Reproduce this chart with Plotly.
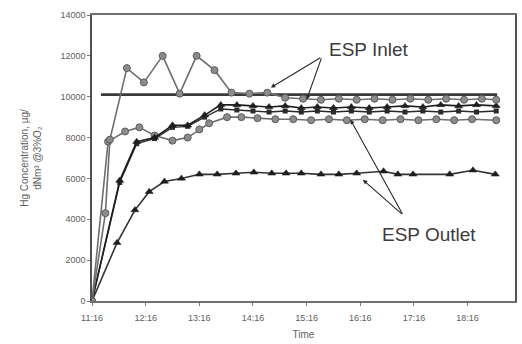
import pandas as pd
import plotly.graph_objects as go

DAY = "2000-01-01 "

# ESP inlet, run 1 (grey circles)
inlet1_time = ["11:16", "11:31", "11:36", "11:55", "12:14", "12:35", "12:54", "13:13", "13:33",
               "13:52", "14:12", "14:32", "14:52", "15:12", "15:32", "15:52", "16:12", "16:32",
               "16:52", "17:12", "17:32", "17:52", "18:12", "18:32", "18:48"]
inlet1_hg = [0, 4300, 7900, 11400, 10700, 12000, 10150, 12000, 11300,
             10200, 10150, 10200, 9950, 9900, 9850, 9900, 9850, 9900,
             9850, 9900, 9850, 9900, 9850, 9900, 9850]

# Second grey-circle series
circ2_time = ["11:16", "11:34", "11:53", "12:09", "12:26", "12:46", "13:03", "13:16", "13:27",
              "13:47", "14:03", "14:21", "14:41", "15:01", "15:21", "15:41", "16:01", "16:21",
              "16:41", "17:01", "17:21", "17:41", "18:01", "18:21", "18:48"]
circ2_hg = [0, 7800, 8300, 8500, 8100, 7850, 8000, 8400, 8700,
            9000, 9000, 8950, 8900, 8900, 8850, 8900, 8850, 8900,
            8850, 8900, 8850, 8900, 8850, 8900, 8850]

# Upper black-triangle series
tri1_time = ["11:16", "11:47", "12:06", "12:26", "12:46", "13:03", "13:22", "13:40", "13:58",
             "14:16", "14:34", "14:52", "15:10", "15:28", "15:46", "16:06", "16:26", "16:46",
             "17:06", "17:26", "17:46", "18:06", "18:26", "18:48"]
tri1_hg = [0, 5900, 7800, 8000, 8600, 8600, 9100, 9600, 9600,
           9550, 9500, 9550, 9450, 9500, 9450, 9500, 9450, 9500,
           9550, 9500, 9600, 9550, 9600, 9550]

# Black-square series
sq_time = ["11:16", "11:47", "12:06", "12:26", "12:46", "13:03", "13:22", "13:40", "13:58",
           "14:16", "14:34", "14:52", "15:10", "15:28", "15:46", "16:06", "16:26", "16:46",
           "17:06", "17:26", "17:46", "18:06", "18:26", "18:48"]
sq_hg = [0, 5800, 7700, 7950, 8500, 8550, 9000, 9400, 9350,
         9300, 9250, 9300, 9250, 9300, 9250, 9300, 9250, 9300,
         9250, 9300, 9250, 9300, 9250, 9300]

# ESP outlet (lower black triangles)
outlet_time = ["11:16", "11:44", "12:04", "12:20", "12:37", "12:56", "13:16", "13:36", "13:57",
               "14:17", "14:37", "14:53", "15:10", "15:32", "15:52", "16:12", "16:42", "16:58",
               "17:15", "17:56", "18:22", "18:47"]
outlet_hg = [0, 2850, 4450, 5350, 5850, 6000, 6200, 6200, 6250,
             6300, 6250, 6250, 6250, 6200, 6200, 6250, 6350, 6200,
             6200, 6200, 6400, 6200]

# Reference level
ref_time = ["11:26", "18:49"]
ref_hg = [10100, 10100]

tick_times = ["11:16", "12:16", "13:16", "14:16", "15:16", "16:16", "17:16", "18:16"]
y_ticks = [0, 2000, 4000, 6000, 8000, 10000, 12000, 14000]


def ts(times):
    return pd.to_datetime([DAY + t for t in times])


fig = go.Figure()

fig.add_trace(go.Scatter(x=ts(ref_time), y=ref_hg, mode="lines",
                         line=dict(color="#3a3a3a", width=2.6)))

circle_style = dict(symbol="circle", size=7, color="#8c8c8c", line=dict(color="#5a5a5a", width=1))
tri_style = dict(symbol="triangle-up", size=7, color="#1e1e1e", line=dict(color="#1e1e1e", width=0.5))

fig.add_trace(go.Scatter(x=ts(circ2_time), y=circ2_hg, mode="lines+markers",
                         line=dict(color="#6e6e6e", width=1.6), marker=circle_style))
fig.add_trace(go.Scatter(x=ts(sq_time), y=sq_hg, mode="lines+markers",
                         line=dict(color="#2a2a2a", width=1.4),
                         marker=dict(symbol="square", size=5, color="#2a2a2a")))
fig.add_trace(go.Scatter(x=ts(tri1_time), y=tri1_hg, mode="lines+markers",
                         line=dict(color="#1e1e1e", width=1.6), marker=tri_style))
fig.add_trace(go.Scatter(x=ts(outlet_time), y=outlet_hg, mode="lines+markers",
                         line=dict(color="#333333", width=1.6), marker=tri_style))
fig.add_trace(go.Scatter(x=ts(inlet1_time), y=inlet1_hg, mode="lines+markers",
                         line=dict(color="#6e6e6e", width=1.6), marker=circle_style))

# Callout labels with leader lines
label_font = dict(family="Liberation Sans, Arial, sans-serif", size=19, color="#3c3c3c")
fig.add_annotation(x=ts(["16:26"])[0], y=12300, text="ESP Inlet", showarrow=False, font=label_font)
fig.add_annotation(x=ts(["17:33"])[0], y=3250, text="ESP Outlet", showarrow=False, font=label_font)

leaders = [
    ("15:33", 11950, "14:36", 10450),
    ("15:33", 11950, "15:16", 9850),
    ("17:04", 4200, "16:19", 5930),
    ("17:04", 4200, "16:05", 8870),
]
for t0, v0, t1, v1 in leaders:
    fig.add_annotation(x=ts([t1])[0], y=v1, ax=ts([t0])[0], ay=v0, xref="x", yref="y",
                       axref="x", ayref="y", text="", showarrow=True, arrowhead=2,
                       arrowsize=0.8, arrowwidth=1.1, arrowcolor="#2a2a2a")

tick_font = dict(family="Liberation Sans, Arial, sans-serif", size=9, color="#606060")
title_font = dict(family="Liberation Sans, Arial, sans-serif", size=10, color="#606060")

fig.update_layout(
    width=522, height=344,
    margin=dict(l=92, r=5, t=15, b=43),
    paper_bgcolor="white", plot_bgcolor="white",
    showlegend=False,
    xaxis=dict(
        range=[ts(["11:16"])[0], ts(["19:09"])[0]],
        tickvals=ts(tick_times), ticktext=tick_times,
        ticks="outside", ticklen=3, tickcolor="#777777",
        ticklabelstandoff=4,
        showgrid=False, zeroline=False,
        showline=True, mirror=True, linecolor="#707070", linewidth=2,
        tickfont=tick_font,
        title=dict(text="Time", font=title_font, standoff=9),
    ),
    yaxis=dict(
        range=[0, 14000], tickvals=y_ticks, ticktext=[str(v) for v in y_ticks],
        ticks="outside", ticklen=3, tickcolor="#777777",
        showgrid=False, zeroline=False,
        showline=True, mirror=True, linecolor="#505050", linewidth=1.5,
        tickfont=tick_font,
        title=dict(text="Hg Concentration, µg/<br>dNm³ @3%O₂", font=title_font, standoff=17),
    ),
)

fig.write_html("out.html")
